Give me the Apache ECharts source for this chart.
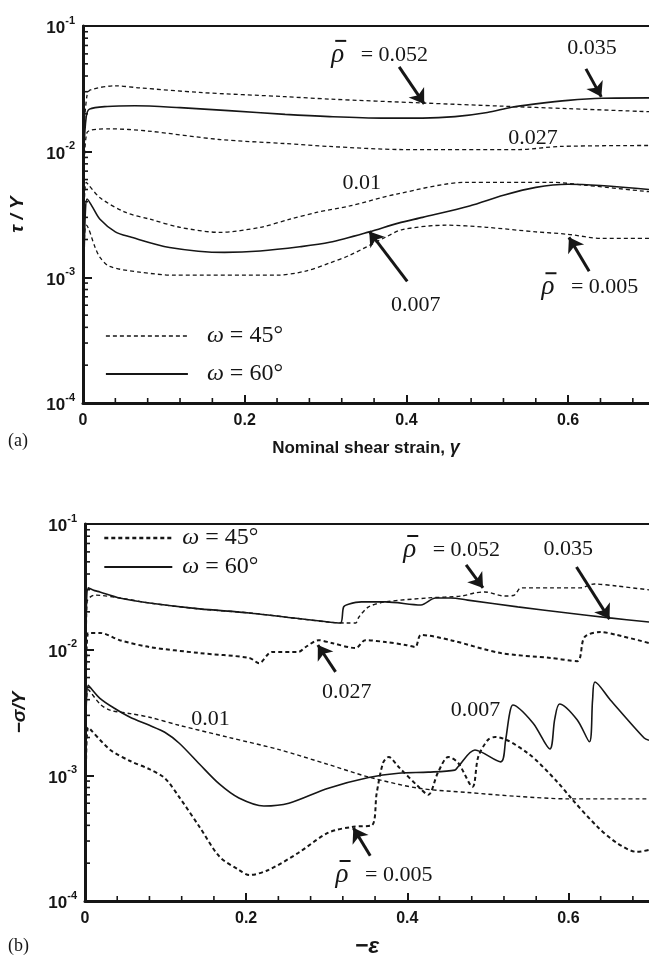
<!DOCTYPE html>
<html>
<head>
<meta charset="utf-8">
<script src="https://cdn.jsdelivr.net/npm/echarts@6/dist/echarts.min.js"></script>
<style>
  html, body { margin: 0; padding: 0; background: #fff; }
  #main { width: 649px; height: 962px; }
</style>
</head>
<body>
<div id="main"></div>
<script>
// (a) shear stress tau/Y against nominal shear strain gamma, one curve per relative density
const shearRho052w45 = [[0.002,0.018],[0.005,0.028],[0.009,0.031],[0.04,0.0334],[0.07,0.0322],[0.144,0.0296],[0.25,0.0274],[0.305,0.0262],[0.42,0.0244],[0.52,0.0230],[0.6,0.0220],[0.7,0.0208]];
const shearRho035w60 = [[0.001,0.010],[0.004,0.019],[0.008,0.0218],[0.03,0.0229],[0.064,0.0232],[0.12,0.0224],[0.18,0.0212],[0.25,0.0198],[0.305,0.0190],[0.37,0.0185],[0.42,0.0185],[0.46,0.0190],[0.5,0.0205],[0.53,0.0226],[0.56,0.0240],[0.6,0.0256],[0.642,0.0266],[0.7,0.0268]];
const shearRho027w45 = [[0.001,0.005],[0.005,0.0142],[0.033,0.0152],[0.08,0.0146],[0.169,0.0125],[0.25,0.0116],[0.305,0.0110],[0.395,0.0104],[0.54,0.0104],[0.589,0.0110],[0.7,0.0112]];
const shearRho010w45 = [[0.001,0.002],[0.004,0.0057],[0.021,0.0043],[0.052,0.0033],[0.083,0.0029],[0.12,0.0025],[0.169,0.00228],[0.219,0.0025],[0.256,0.0029],[0.29,0.0033],[0.33,0.0037],[0.388,0.0046],[0.474,0.0057],[0.58,0.0057],[0.622,0.0054],[0.7,0.0048]];
const shearRho007w60 = [[0.001,0.0012],[0.003,0.0034],[0.005,0.0042],[0.012,0.0036],[0.021,0.0029],[0.04,0.0023],[0.058,0.0021],[0.107,0.00173],[0.175,0.00158],[0.219,0.00162],[0.268,0.00175],[0.305,0.0019],[0.354,0.0023],[0.39,0.0027],[0.42,0.0030],[0.478,0.0037],[0.52,0.0045],[0.56,0.0052],[0.6,0.0055],[0.7,0.0050]];
const shearRho005w45 = [[0.001,0.0012],[0.002,0.0022],[0.004,0.0026],[0.015,0.00173],[0.021,0.00144],[0.033,0.00122],[0.07,0.0011],[0.114,0.00104],[0.24,0.00104],[0.275,0.00112],[0.305,0.0013],[0.33,0.0015],[0.375,0.0021],[0.395,0.0024],[0.449,0.0026],[0.499,0.0025],[0.56,0.0023],[0.6,0.0022],[0.642,0.00204],[0.7,0.00204]];

// (b) compressive stress -sigma/Y against -epsilon
const compRho052w45 = [[0.001,0.005],[0.0025,0.024],[0.012,0.0272],[0.043,0.0258],[0.08,0.0235],[0.142,0.0211],[0.204,0.0196],[0.302,0.0166],[0.327,0.0163],[0.336,0.0163],[0.34,0.0182],[0.352,0.0219],[0.373,0.0240],[0.426,0.0258],[0.467,0.0267],[0.484,0.0283],[0.496,0.0288],[0.521,0.0267],[0.533,0.0272],[0.541,0.0310],[0.578,0.0310],[0.615,0.0310],[0.632,0.0333],[0.66,0.0321],[0.7,0.0299]];
const compRho035w60 = [[0.001,0.010],[0.004,0.0310],[0.012,0.0295],[0.0185,0.0288],[0.043,0.0258],[0.08,0.0235],[0.142,0.0211],[0.204,0.0196],[0.302,0.0166],[0.317,0.0163],[0.321,0.0219],[0.327,0.0230],[0.343,0.0240],[0.373,0.0240],[0.417,0.0227],[0.435,0.0258],[0.454,0.0258],[0.475,0.0248],[0.537,0.0219],[0.599,0.0196],[0.651,0.0179],[0.7,0.0166]];
const compRho027w45 = [[0.001,0.004],[0.004,0.0136],[0.0185,0.0136],[0.043,0.0119],[0.08,0.0105],[0.142,0.0094],[0.204,0.0086],[0.216,0.0078],[0.232,0.0096],[0.265,0.0096],[0.274,0.0105],[0.29,0.0119],[0.306,0.0113],[0.336,0.0103],[0.348,0.0119],[0.373,0.0115],[0.398,0.0109],[0.41,0.0105],[0.417,0.0131],[0.454,0.0119],[0.516,0.0094],[0.578,0.0086],[0.611,0.0081],[0.62,0.0126],[0.64,0.0138],[0.66,0.0131],[0.7,0.0113]];
const compRho010w45 = [[0.001,0.0025],[0.004,0.0048],[0.0185,0.0037],[0.031,0.0033],[0.056,0.0031],[0.08,0.0029],[0.117,0.0025],[0.179,0.0020],[0.241,0.0016],[0.302,0.00122],[0.352,0.00097],[0.414,0.00079],[0.475,0.00073],[0.537,0.00068],[0.599,0.00065],[0.7,0.00065]];
const compRho007w60 = [[0.001,0.002],[0.004,0.0052],[0.0185,0.0041],[0.037,0.0034],[0.056,0.0029],[0.08,0.0025],[0.099,0.0022],[0.117,0.0018],[0.142,0.00123],[0.167,0.00085],[0.191,0.00066],[0.222,0.00057],[0.253,0.0006],[0.302,0.00079],[0.352,0.00096],[0.389,0.00104],[0.426,0.00106],[0.459,0.0011],[0.463,0.00117],[0.484,0.00159],[0.516,0.00128],[0.522,0.0019],[0.527,0.0031],[0.531,0.00363],[0.556,0.00261],[0.577,0.00162],[0.583,0.0028],[0.589,0.00370],[0.611,0.00276],[0.626,0.00185],[0.63,0.0040],[0.633,0.00553],[0.652,0.00398],[0.694,0.00198],[0.7,0.0019]];
const compRho005w45 = [[0.001,0.0008],[0.004,0.0024],[0.031,0.0016],[0.056,0.0013],[0.08,0.00112],[0.099,0.00095],[0.117,0.00067],[0.142,0.00039],[0.167,0.000225],[0.191,0.000177],[0.204,0.000161],[0.228,0.000177],[0.265,0.000242],[0.302,0.00035],[0.333,0.00039],[0.356,0.0004],[0.362,0.00072],[0.37,0.00126],[0.377,0.0014],[0.389,0.00117],[0.414,0.00081],[0.426,0.0007],[0.438,0.00105],[0.451,0.0014],[0.463,0.00126],[0.481,0.00081],[0.488,0.0014],[0.5,0.00191],[0.509,0.00202],[0.549,0.00151],[0.586,0.00089],[0.605,0.00064],[0.636,0.00039],[0.66,0.00029],[0.685,0.000246],[0.7,0.000255]];

// axes
const xMin = 0, xMax = 0.7, xStep = 0.2, xMinorStep = 0.04;
const yMin = 1e-4, yMax = 1e-1;
const logMinorMultipliers = [2, 3, 4, 5, 6, 7, 8, 9];
const legendNames = ['ω = 45°', 'ω = 60°'];

// density labels [x, y, value, has rho-bar prefix] and arrows [fromX, fromY, toX, toY]
const shearLabels = [[0.307,0.0589,'0.052',true],[0.599,0.0668,'0.035',false],[0.526,0.0129,'0.027',false],[0.321,0.00557,'0.01',false],[0.381,0.0006,'0.007',false],[0.567,0.000834,'0.005',true]];
const shearArrows = [[0.391,0.0473,0.422,0.0240],[0.622,0.0456,0.641,0.0273],[0.401,0.00093,0.354,0.00232],[0.626,0.00112,0.601,0.00208]];
const compLabels = [[0.395,0.0621,'0.052',true],[0.569,0.0633,'0.035',false],[0.294,0.0046,'0.027',false],[0.132,0.00281,'0.01',false],[0.454,0.00331,'0.007',false],[0.311,0.000161,'0.005',true]];
const compArrows = [[0.473,0.0472,0.494,0.031],[0.610,0.0455,0.651,0.0175],[0.311,0.00665,0.289,0.0109],[0.354,0.000229,0.333,0.000382]];

const INK = '#161616';
const CLEAR = 'rgba(0,0,0,0)';
const SANS = 'Liberation Sans, Arial, sans-serif';
const SERIF = 'Liberation Serif, Times New Roman, serif';

function lineSeries(name, data, gi, dashed, width) {
  return {
    type: 'line', name, data, xAxisIndex: gi, yAxisIndex: gi,
    symbol: 'none', showSymbol: false, smooth: 0.3,
    lineStyle: { color: INK, width, type: dashed ? [4, 3] : 'solid' },
    itemStyle: { color: INK },
    silent: true, animation: false, z: 3
  };
}

function annotations(labels, arrows) {
  return {
    markPoint: {
      silent: true, symbol: 'circle', symbolSize: 0, animation: false,
      data: labels.map(([x, y, t, rho]) => ({
        coord: [x, y],
        label: {
          show: true, position: 'right', distance: 0, color: INK,
          fontFamily: SERIF, fontSize: 22,
          formatter: rho ? '{r|ρ}   = ' + t : t,
          rich: { r: { fontFamily: SERIF, fontSize: 27, fontStyle: 'italic', color: INK } }
        }
      }))
    },
    markLine: {
      silent: true, animation: false, symbol: ['none', 'arrow'], symbolSize: 14,
      label: { show: false },
      lineStyle: { color: INK, width: 3, type: 'solid' },
      data: arrows.map(([x1, y1, x2, y2]) => [{ coord: [x1, y1] }, { coord: [x2, y2] }])
    }
  };
}

const grids = [
  { left: 83, top: 26, width: 566, height: 377 },
  { left: 85, top: 524, width: 564, height: 377 }
];

function xAxisCfg(gi, nameRich, nameGap) {
  return {
    type: 'value', gridIndex: gi, min: xMin, max: xMax, interval: xStep,
    axisLine: { show: true, onZero: false, lineStyle: { color: INK, width: 3 } },
    axisTick: { show: true, inside: true, length: 8, lineStyle: { color: INK, width: 2 } },
    axisLabel: { margin: 10, showMaxLabel: false, color: INK, fontFamily: SANS, fontWeight: 'bold', fontSize: 16 },
    splitLine: { show: false },
    name: nameRich, nameLocation: 'middle', nameGap,
    nameTextStyle: { color: INK, fontFamily: SANS, fontWeight: 'bold', fontSize: 17,
      rich: {
        n: { fontFamily: SANS, fontWeight: 'bold', fontSize: 17, color: INK },
        g: { fontFamily: SANS, fontWeight: 'bold', fontStyle: 'italic', fontSize: 18, color: INK },
        e: { fontFamily: SANS, fontWeight: 'bold', fontStyle: 'italic', fontSize: 23, color: INK }
      } }
  };
}
function topBorder(gi) {
  return {
    type: 'value', gridIndex: gi, position: 'top', min: xMin, max: xMax,
    axisLine: { show: true, onZero: false, lineStyle: { color: INK, width: 2 } },
    axisTick: { show: false }, axisLabel: { show: false }, splitLine: { show: false }
  };
}
function yAxisCfg(gi, name) {
  return {
    type: 'log', logBase: 10, gridIndex: gi, min: yMin, max: yMax,
    axisLine: { show: true, onZero: false, lineStyle: { color: INK, width: 3 } },
    axisTick: { show: true, inside: true, length: 9, lineStyle: { color: INK, width: 2 } },
    axisLabel: {
      margin: 8, color: INK,
      formatter: v => '{b|10}{s|' + Math.round(Math.log10(v)) + '}',
      rich: {
        b: { fontFamily: SANS, fontWeight: 'bold', fontSize: 17, color: INK, lineHeight: 22, verticalAlign: 'bottom' },
        s: { fontFamily: SANS, fontWeight: 'bold', fontSize: 11, color: INK, lineHeight: 22, verticalAlign: 'top', padding: [0, 0, 8, 0] }
      }
    },
    splitLine: { show: false },
    name, nameLocation: 'middle', nameGap: 56, nameRotate: 90,
    nameTextStyle: { color: INK, fontFamily: SANS, fontWeight: 'bold', fontStyle: 'italic', fontSize: 19 }
  };
}

function legendCfg(top, left, lineLen, gap, textPad, dashWidth) {
  const hideSymbol = { color: CLEAR, borderColor: CLEAR, borderWidth: 0, opacity: 0 };
  return {
    orient: 'vertical', left, top, itemWidth: lineLen, itemHeight: 14, itemGap: gap,
    selectedMode: false,
    textStyle: { color: INK, fontFamily: SERIF, fontSize: 24, padding: [0, 0, 0, textPad],
      rich: { w: { fontFamily: SERIF, fontStyle: 'italic', fontSize: 24, color: INK } } },
    formatter: n => n.replace('ω', '{w|ω}'),
    data: [
      { name: legendNames[0], itemStyle: hideSymbol, lineStyle: { color: INK, width: dashWidth, type: [4, 3] } },
      { name: legendNames[1], itemStyle: hideSymbol, lineStyle: { color: INK, width: 1.8, type: 'solid' } }
    ]
  };
}

const series = [
  Object.assign(lineSeries(legendNames[0], shearRho052w45, 0, true, 1.3), annotations(shearLabels, shearArrows)),
  lineSeries(legendNames[1], shearRho035w60, 0, false, 1.6),
  lineSeries(legendNames[0], shearRho027w45, 0, true, 1.3),
  lineSeries(legendNames[0], shearRho010w45, 0, true, 1.3),
  lineSeries(legendNames[1], shearRho007w60, 0, false, 1.6),
  lineSeries(legendNames[0], shearRho005w45, 0, true, 1.3),
  Object.assign(lineSeries(legendNames[0], compRho052w45, 1, true, 1.4), annotations(compLabels, compArrows)),
  lineSeries(legendNames[1], compRho035w60, 1, false, 1.6),
  lineSeries(legendNames[0], compRho027w45, 1, true, 2),
  lineSeries(legendNames[0], compRho010w45, 1, true, 1.4),
  lineSeries(legendNames[1], compRho007w60, 1, false, 1.6),
  lineSeries(legendNames[0], compRho005w45, 1, true, 2)
];

const chart = echarts.init(document.getElementById('main'), null, { renderer: 'canvas' });
chart.setOption({
  backgroundColor: '#ffffff',
  animation: false,
  grid: grids,
  xAxis: [
    xAxisCfg(0, '{n|Nominal shear strain, }{g|γ}', 36),
    xAxisCfg(1, '{e|−ε}', 34),
    topBorder(0), topBorder(1)
  ],
  yAxis: [yAxisCfg(0, 'τ / Y'), yAxisCfg(1, '−σ/Y')],
  legend: [legendCfg(319, 100, 82, 14, 14, 1.3), legendCfg(521, 98, 68, 5, 5, 2.6)],
  series
});

// minor ticks (log decades on y, 0.04 steps on x), bars over rho, panel letters
function decorations() {
  const g = [];
  const seg = (x1, y1, x2, y2, w) => g.push({
    type: 'line', silent: true, z: 10,
    shape: { x1, y1, x2, y2 },
    style: { stroke: INK, lineWidth: w }
  });
  const yMinor = [];
  for (let e = Math.log10(yMin); e < Math.log10(yMax); e++) {
    logMinorMultipliers.forEach(m => yMinor.push(m * Math.pow(10, e)));
  }
  const xMinor = [];
  for (let k = 1; k * xMinorStep < xMax; k++) {
    if (k % 5 !== 0) xMinor.push(k * xMinorStep);
  }
  [0, 1].forEach(gi => {
    yMinor.forEach(v => { const p = chart.convertToPixel({ gridIndex: gi }, [xMin, v]); seg(p[0], p[1], p[0] + 5, p[1], 1.6); });
    xMinor.forEach(v => { const p = chart.convertToPixel({ gridIndex: gi }, [v, yMin]); seg(p[0], p[1], p[0], p[1] - 5, 1.6); });
    const labels = gi === 0 ? shearLabels : compLabels;
    labels.filter(l => l[3]).forEach(l => {
      const p = chart.convertToPixel({ gridIndex: gi }, [l[0], l[1]]);
      seg(p[0] + 4, p[1] - 14, p[0] + 15, p[1] - 14, 2);
    });
  });
  g.push({ type: 'text', left: 8, top: 432, style: { text: '(a)', fill: INK, font: '18px ' + SERIF } });
  g.push({ type: 'text', left: 8, top: 937, style: { text: '(b)', fill: INK, font: '18px ' + SERIF } });
  chart.setOption({ graphic: g });
}
decorations();
</script>
</body>
</html>
